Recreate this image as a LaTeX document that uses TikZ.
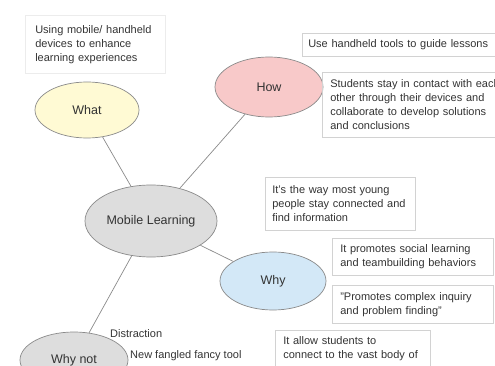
\documentclass[tikz,border=0pt]{standalone}
\usepackage{fontspec}
\setmainfont{Liberation Sans}
\usetikzlibrary{shapes.geometric}
\definecolor{inkgray}{HTML}{333333}
\definecolor{edgegray}{HTML}{8A8A8A}
\definecolor{boxgray}{HTML}{D2D2D2}
\definecolor{faintgray}{HTML}{ECECEC}
\definecolor{whatfill}{HTML}{FFFAD4}
\definecolor{howfill}{HTML}{F8C9C9}
\definecolor{whyfill}{HTML}{D3E8F7}
\definecolor{hubfill}{HTML}{DDDDDD}
\begin{document}
\begin{tikzpicture}[x=1pt,y=-1pt,
  font=\fontsize{11}{14}\selectfont,
  topic/.style={ellipse, draw=edgegray, line width=0.7pt, inner sep=0pt,
    text=inkgray, font=\fontsize{12.5}{15}\selectfont},
  note/.style={draw=boxgray, line width=0.6pt, align=left, text=inkgray,
    inner ysep=4pt, anchor=north west},
  link/.style={draw=edgegray, line width=0.7pt},
  plain/.style={text=inkgray, inner sep=0pt, anchor=base west}]
\useasboundingbox (0,0) rectangle (495,366);
\clip (0,0) rectangle (495,366);

% topic ellipses
\node[topic, fill=hubfill, minimum width=132pt, minimum height=72pt] (ml) at (151,221) {Mobile Learning};
\node[topic, fill=whatfill, minimum width=104pt, minimum height=56pt] (what) at (87,110) {What};
\node[topic, fill=howfill, minimum width=108pt, minimum height=60pt] (how) at (269,87) {How};
\node[topic, fill=whyfill, minimum width=106pt, minimum height=58pt] (why) at (273,281) {Why};
\node[topic, fill=hubfill, minimum width=108pt, minimum height=56pt] (whynot) at (74,360) {Why not};

% spokes from the hub
\draw[link] (ml) -- (what);
\draw[link] (ml) -- (how);
\draw[link] (ml) -- (why);
\draw[link] (ml) -- (whynot);

% notes for "What"
\node[note, draw=faintgray, text width=120pt, inner xsep=10pt, minimum height=58pt] (whatnote) at (25,15)
  {Using mobile/ handheld\\devices to enhance\\learning experiences};

% notes for "How"
\node[note, text width=183pt, inner xsep=6pt, minimum height=23pt] (hownote1) at (302,33)
  {Use handheld tools to guide lessons};
\node[note, text width=176pt, inner xsep=8pt, minimum height=65pt] (hownote2) at (322,72)
  {Students stay in contact with each\\other through their devices and\\collaborate to develop solutions\\and conclusions};

% notes for "Why"
\node[note, text width=136pt, inner xsep=7pt, minimum height=53pt] (whynote1) at (265,177)
  {It's the way most young\\people stay connected and\\find information};
\node[note, text width=145pt, inner xsep=8pt, minimum height=37pt] (whynote2) at (332,238)
  {It promotes social learning\\and teambuilding behaviors};
\node[note, text width=145pt, inner xsep=8pt, minimum height=38pt] (whynote3) at (332,285)
  {"Promotes complex inquiry\\and problem finding"};
\node[note, text width=139pt, inner xsep=8pt, inner ysep=6pt] (whynote4) at (275,330)
  {It allow students to\\connect to the vast body of};

% notes for "Why not"
\node[plain] (distract) at (110,337) {Distraction};
\node[plain] (fancy) at (130,358) {New fangled fancy tool};
\end{tikzpicture}
\end{document}
